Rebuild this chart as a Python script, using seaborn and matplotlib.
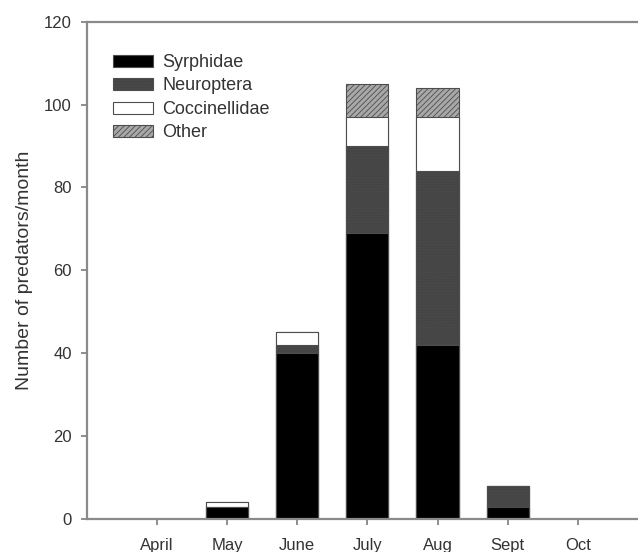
import numpy as np
import pandas as pd
import matplotlib
matplotlib.use("Agg")
import matplotlib.pyplot as plt
import seaborn as sns

# --- data ---
months = ["April", "May", "June", "July", "Aug", "Sept", "Oct"]
syrphidae = [0, 3, 40, 69, 42, 3, 0]
neuroptera = [0, 0, 2, 21, 42, 5, 0]
coccinellidae = [0, 1, 3, 7, 13, 0, 0]
other = [0, 0, 0, 8, 7, 0, 0]

df = pd.DataFrame({"Month": months, "Syrphidae": syrphidae, "Neuroptera": neuroptera,
                   "Coccinellidae": coccinellidae, "Other": other})
# cumulative heights, drawn tallest first so each layer covers the one behind it
df["cum_syr"] = df["Syrphidae"]
df["cum_neu"] = df["cum_syr"] + df["Neuroptera"]
df["cum_coc"] = df["cum_neu"] + df["Coccinellidae"]
df["cum_oth"] = df["cum_coc"] + df["Other"]

sns.set_style("ticks")
plt.rcParams["font.family"] = ["Liberation Sans", "DejaVu Sans"]
plt.rcParams["hatch.linewidth"] = 0.6
plt.rcParams["hatch.color"] = "#5a5a5a"

fig = plt.figure(figsize=(6.38, 5.52), dpi=100)
ax = fig.add_axes([0.1364, 0.0598, 0.879, 0.901])

layers = [
    ("cum_oth", "Other", "#a8a8a8", "//////"),
    ("cum_coc", "Coccinellidae", "white", None),
    ("cum_neu", "Neuroptera", "#454545", "......"),
    ("cum_syr", "Syrphidae", "black", None),
]
for col, name, color, hatch in layers:
    sns.barplot(data=df, x="Month", y=col, color=color, width=0.6, ax=ax,
                edgecolor="#4d4d4d", linewidth=0.8, hatch=hatch, label=name,
                saturation=1)

ax.set_xlim(-1, 7)
ax.set_ylim(0, 120)
ax.set_yticks(np.arange(0, 121, 20))
ax.set_xlabel("")
ax.set_ylabel("Number of predators/month", fontsize=14, color="#333333", labelpad=8)

for side in ["left", "bottom", "top", "right"]:
    ax.spines[side].set_visible(True)
    ax.spines[side].set_color("#8a8a8a")
    ax.spines[side].set_linewidth(1.6)
ax.tick_params(axis="both", direction="out", length=4, width=1.2, color="#7a7a7a",
               labelsize=12, labelcolor="#333333", pad=7)
ax.tick_params(axis="x", pad=10)

h, l = ax.get_legend_handles_labels()
lookup = dict(zip(l, h))
order = ["Syrphidae", "Neuroptera", "Coccinellidae", "Other"]
ax.legend([lookup[k] for k in order], order, loc="upper left",
          bbox_to_anchor=(0.046, 0.935), frameon=False, fontsize=13,
          borderpad=0, borderaxespad=0,
          handlelength=2.2, handleheight=0.65, labelspacing=0.36, handletextpad=0.55,
          labelcolor="#333333")

fig.savefig("out.png", dpi=100)
